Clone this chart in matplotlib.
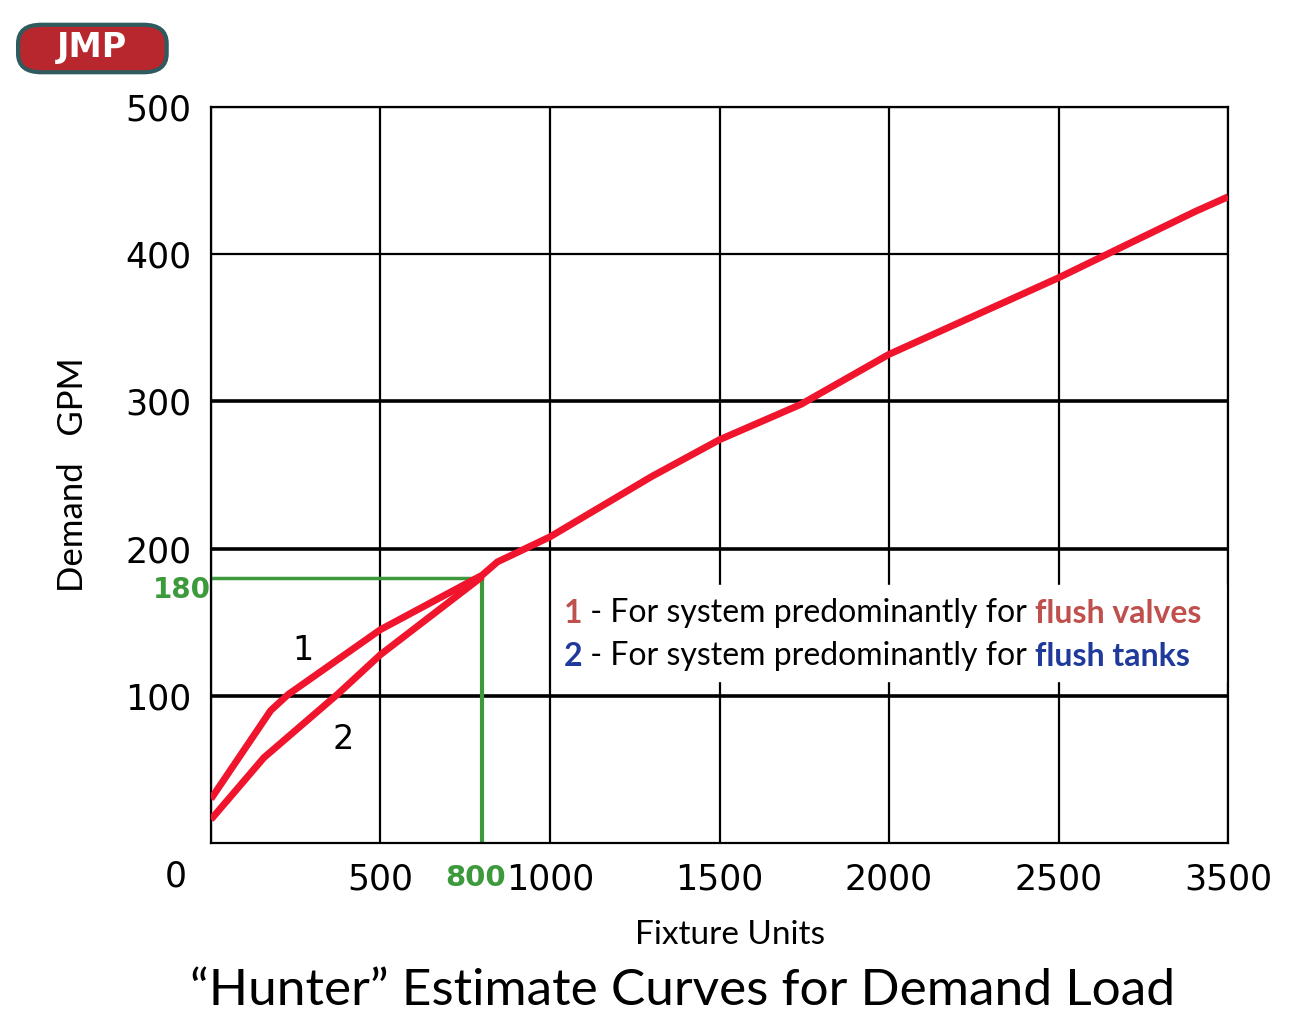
import matplotlib
matplotlib.use("Agg")
from matplotlib import pyplot as plt
from matplotlib.patches import FancyBboxPatch

# x values are in grid units: the last grid cell of the source is labelled 3500
x_ticks = [0, 500, 1000, 1500, 2000, 2500, 3000]
x_labels = ['', '500', '1000', '1500', '2000', '2500', '3500']
y_ticks = [100, 200, 300, 400, 500]

valves_x = [0, 176, 228, 500, 800, 845, 1000, 1300, 1500, 1740, 2000, 2500, 2903, 3000]
valves_y = [30, 90, 101, 145, 182, 191, 208, 249, 274, 298, 332, 384, 429, 439]
tanks_x = [0, 156, 373, 500, 800]
tanks_y = [16, 58, 101, 128, 181]

mark_x, mark_y = 800, 180
red = '#f0142d'
green = '#3c9a3c'

fig = plt.figure(figsize=(12.92, 10.32), dpi=100)
ax = fig.add_axes([0.1633, 0.1831, 0.7872, 0.7132])
ax.set_xlim(0, 3000)
ax.set_ylim(0, 500)

for x in x_ticks:
    ax.axvline(x, color='black', lw=1.6, zorder=1)
for y in y_ticks:
    ax.axhline(y, color='black', lw=2.6 if y in (100, 200, 300) else 1.6, zorder=1)
for s in ax.spines.values():
    s.set_linewidth(1.6)

ax.set_xticks(x_ticks)
ax.set_xticklabels(x_labels)
ax.set_yticks(y_ticks)
ax.tick_params(length=0, labelsize=25, pad=14)
ax.text(-0.035, -0.045, '0', transform=ax.transAxes, fontsize=25, ha='center', va='center')

ax.plot([0, mark_x], [mark_y, mark_y], color=green, lw=2.5, zorder=2)
ax.plot([mark_x, mark_x], [0, mark_y], color=green, lw=3, zorder=2)
ax.text(-0.013, mark_y - 8, '180', color=green, fontsize=20, fontweight='bold', ha='right', va='center')
ax.text(870, -24, '800', color=green, fontsize=21, fontweight='bold', ha='right', va='center')

ax.plot(valves_x, valves_y, color=red, lw=5, solid_capstyle='butt', zorder=3)
ax.plot(tanks_x, tanks_y, color=red, lw=5, solid_capstyle='butt', zorder=3)
ax.text(270, 131, '1', fontsize=24, ha='center', va='center', zorder=4)
ax.text(390, 70, '2', fontsize=24, ha='center', va='center', zorder=4)

ax.fill_between([1010, 3000], 110, 175, color='white', zorder=2)
fam = ['Lato', 'DejaVu Sans']
for ypos, num, ncol, tail in [(156, '1', '#c0504d', 'flush valves'), (127, '2', '#1f3a9a', 'flush tanks')]:
    t1 = ax.text(1040, ypos, num, color=ncol, fontsize=23, fontweight='bold', family=fam, va='center', zorder=4)
    t2 = ax.annotate(' - For system predominantly for ', xy=(1, 0.5), xycoords=t1, va='center',
                     fontsize=23, family=fam, zorder=4)
    ax.annotate(tail, xy=(1, 0.5), xycoords=t2, va='center', color=ncol, fontsize=23,
                fontweight='bold', family=fam, zorder=4)

ax.set_ylabel('Demand   GPM', fontsize=25, family=fam, labelpad=26)
fig.text(0.565, 0.094, 'Fixture Units', fontsize=24, family=fam, ha='center', va='center')
fig.text(0.528, 0.04, '\u201cHunter\u201d Estimate Curves for Demand Load', fontsize=37, family=fam,
         ha='center', va='center')

# logo
logo = FancyBboxPatch((0.024, 0.94), 0.095, 0.026, boxstyle='round,pad=0.01,rounding_size=0.018',
                      transform=fig.transFigure, facecolor='#b8272d', edgecolor='#2f5a5e', lw=3)
fig.patches.append(logo)
fig.text(0.071, 0.9535, 'JMP', color='white', fontsize=24, fontweight='heavy', ha='center', va='center')

fig.savefig('out.png', dpi=100)
